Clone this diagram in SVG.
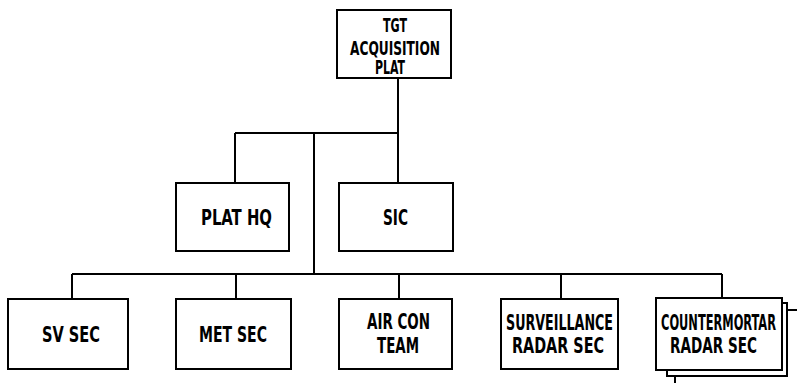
<svg xmlns="http://www.w3.org/2000/svg" width="797" height="383" viewBox="0 0 797 383">
<style>
.box { fill: #fff; stroke: #000; stroke-width: 2; }
.ln { fill: none; stroke: #000; stroke-width: 2; }
text { font-family: "DejaVu Sans Condensed", "Liberation Sans", sans-serif; font-weight: bold; font-size: 21px; fill: #000; }
.sm { font-size: 19px; }
</style>
<rect width="797" height="383" fill="#fff"/>
<g id="connectors">
<path class="ln" d="M398 78 V133 M235 133 H398 M235 133 V183 M398 133 V183 M314 133 V274 M72 274 H722 M72 274 V299 M236 274 V299 M399 274 V299 M561 274 V299 M722 274 V298"/>
</g>
<g id="tgt">
<rect class="box" x="337" y="10" width="114" height="68"/>
<text class="sm" x="383" y="32" textLength="24" lengthAdjust="spacingAndGlyphs">TGT</text>
<text class="sm" x="350" y="55" textLength="90" lengthAdjust="spacingAndGlyphs">ACQUISITION</text>
<text class="sm" x="375" y="74" textLength="30" lengthAdjust="spacingAndGlyphs">PLAT</text>
</g>
<g id="plathq">
<rect class="box" x="176" y="183" width="113" height="68"/>
<text x="201" y="225" textLength="71" lengthAdjust="spacingAndGlyphs">PLAT HQ</text>
</g>
<g id="sic">
<rect class="box" x="339" y="183" width="114" height="68"/>
<text x="383" y="225" textLength="25" lengthAdjust="spacingAndGlyphs">SIC</text>
</g>
<g id="svsec">
<rect class="box" x="8" y="299" width="120" height="70"/>
<text x="42" y="342" textLength="58" lengthAdjust="spacingAndGlyphs">SV SEC</text>
</g>
<g id="metsec">
<rect class="box" x="176" y="299" width="115" height="70"/>
<text x="199" y="342" textLength="68" lengthAdjust="spacingAndGlyphs">MET SEC</text>
</g>
<g id="aircon">
<rect class="box" x="339" y="299" width="113" height="70"/>
<text x="367" y="329" textLength="63" lengthAdjust="spacingAndGlyphs">AIR CON</text>
<text x="377" y="353" textLength="42" lengthAdjust="spacingAndGlyphs">TEAM</text>
</g>
<g id="survradar">
<rect class="box" x="501" y="299" width="117" height="70"/>
<text x="506" y="330" textLength="107" lengthAdjust="spacingAndGlyphs">SURVEILLANCE</text>
<text x="512" y="353" textLength="92" lengthAdjust="spacingAndGlyphs">RADAR SEC</text>
</g>
<g id="cmradar">
<path class="ln" d="M787 310 H797 M675 376 V383"/>
<path class="ln" d="M782 303 H787 V376 H667 V370"/>
<rect class="box" x="656" y="298" width="126" height="72"/>
<text x="661" y="330" textLength="115" lengthAdjust="spacingAndGlyphs">COUNTERMORTAR</text>
<text x="670" y="353" textLength="87" lengthAdjust="spacingAndGlyphs">RADAR SEC</text>
</g>
</svg>
